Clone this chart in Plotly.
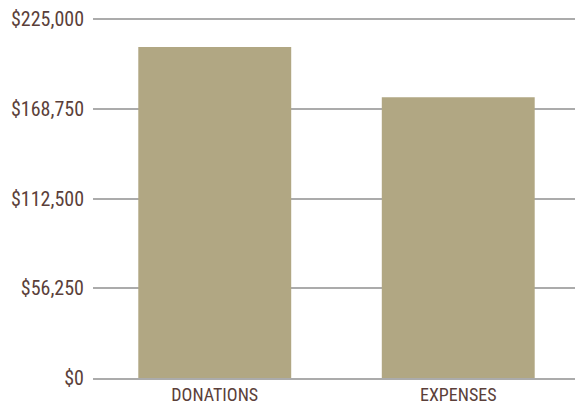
import plotly.graph_objects as go

categories = ["DONATIONS", "EXPENSES"]
values = [207500, 176000]
tick_vals = [0, 56250, 112500, 168750, 225000]
tick_text = ["$0", "$56,250", "$112,500", "$168,750", "$225,000"]

font_family = "Roboto Condensed, Liberation Sans Narrow, sans-serif"
text_color = "#5b3f3a"

fig = go.Figure(go.Bar(x=categories, y=values, marker_color="#b1a783",
                       marker_line_width=0, hoverinfo="skip"))
fig.update_layout(
    width=580, height=404,
    margin=dict(l=93, r=0, t=16, b=26, autoexpand=False),
    paper_bgcolor="white", plot_bgcolor="white",
    bargap=0.372,
    showlegend=False,
    font=dict(family=font_family, size=20, color=text_color),
)
fig.update_yaxes(range=[0, 226880], tickvals=tick_vals, ticktext=tick_text,
                 showgrid=True, gridcolor="#ababab", gridwidth=1.5,
                 zeroline=False, showline=False, ticks="", ticklabelstandoff=8,
                 automargin=False, layer="below traces")
fig.update_xaxes(showgrid=False, showline=True, linecolor="#ababab", linewidth=1.5,
                 ticks="", tickfont=dict(size=18), ticklabelstandoff=0,
                 automargin=False)
fig.write_html("out.html", config={"displayModeBar": False},
               post_script="document.body.style.margin='0';document.body.style.overflow='hidden';")
